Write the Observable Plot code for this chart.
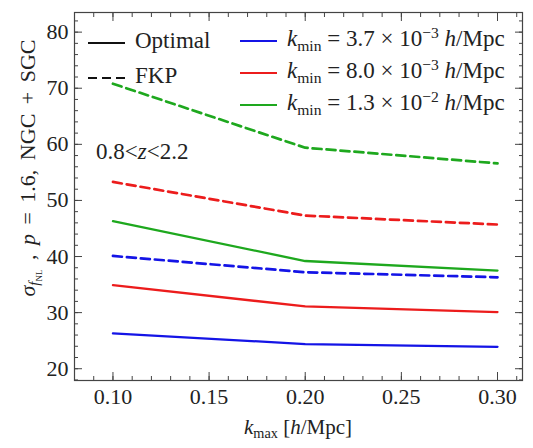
<!DOCTYPE html>
<html>
<head>
<meta charset="utf-8">
<script src="https://cdn.jsdelivr.net/npm/d3@7"></script>
<script src="https://cdn.jsdelivr.net/npm/@observablehq/plot@0.6"></script>
</head>
<body style="margin:0;padding:0;background:#fff;">
<div id="wrap" style="position:relative;width:533px;height:448px;font-family:'Liberation Serif';color:#222;"></div>
<script>
// ---- data ----
const kmax = [0.10, 0.20, 0.30];
const kminLabels = ["3.7e-3", "8.0e-3", "1.3e-2"];
const colors = ["#1414e6", "#ec1c1c", "#1ea81e"];
const optimal_37 = [26.3, 24.4, 23.9];
const optimal_80 = [34.9, 31.1, 30.1];
const optimal_13 = [46.3, 39.2, 37.5];
const fkp_37 = [40.1, 37.2, 36.3];
const fkp_80 = [53.3, 47.3, 45.7];
const fkp_13 = [70.8, 59.4, 56.6];
const xMajor = [0.10, 0.15, 0.20, 0.25, 0.30];
const xMinor = d3.range(8, 32).map(i => i / 100);
const yMajor = [20, 30, 40, 50, 60, 70, 80];
const yMinor = d3.range(18, 84, 2);

const SERIF = "'Liberation Serif', serif";

const rows = [];
function add(weight, kmin, vals) {
  vals.forEach((v, i) => rows.push({kmax: kmax[i], sigma: v, kmin, weight}));
}
add("Optimal", kminLabels[0], optimal_37);
add("Optimal", kminLabels[1], optimal_80);
add("Optimal", kminLabels[2], optimal_13);
add("FKP", kminLabels[0], fkp_37);
add("FKP", kminLabels[1], fkp_80);
add("FKP", kminLabels[2], fkp_13);

const axisColor = "#444";
const plot = Plot.plot({
  width: 533,
  height: 448,
  marginLeft: 74,
  marginRight: 11,
  marginTop: 12,
  marginBottom: 68,
  style: {fontFamily: SERIF, fontSize: "22px", color: "#222"},
  x: {domain: [0.08, 0.313], label: null},
  y: {domain: [17.9, 83.5], label: null},
  color: {domain: kminLabels, range: colors},
  marks: [
    Plot.frame({stroke: axisColor, strokeWidth: 1.2}),
    Plot.axisX({anchor: "bottom", ticks: xMinor, tickSize: -4, text: null, stroke: axisColor}),
    Plot.axisX({anchor: "bottom", ticks: xMajor, tickSize: -8, text: null, stroke: axisColor}),
    Plot.axisX({anchor: "bottom", ticks: xMajor, tickSize: 0, tickPadding: 8, tickFormat: d3.format(".2f"), fill: "#222", fontFamily: SERIF}),
    Plot.axisX({anchor: "top", ticks: xMinor, tickSize: -4, text: null, stroke: axisColor}),
    Plot.axisX({anchor: "top", ticks: xMajor, tickSize: -8, text: null, stroke: axisColor}),
    Plot.axisY({anchor: "left", ticks: yMinor, tickSize: -4, text: null, stroke: axisColor}),
    Plot.axisY({anchor: "left", ticks: yMajor, tickSize: -8, text: null, stroke: axisColor}),
    Plot.axisY({anchor: "left", ticks: yMajor, tickSize: 0, tickPadding: 6, fill: "#222", fontFamily: SERIF}),
    Plot.axisY({anchor: "right", ticks: yMinor, tickSize: -4, text: null, stroke: axisColor}),
    Plot.axisY({anchor: "right", ticks: yMajor, tickSize: -8, text: null, stroke: axisColor}),
    Plot.line(rows.filter(d => d.weight === "Optimal"), {x: "kmax", y: "sigma", z: "kmin", stroke: "kmin", strokeWidth: 2.3}),
    Plot.line(rows.filter(d => d.weight === "FKP"), {x: "kmax", y: "sigma", z: "kmin", stroke: "kmin", strokeWidth: 2.7, strokeDasharray: "9,5"})
  ]
});
plot.style.position = "absolute";
plot.style.left = "0px";
plot.style.top = "0px";
plot.style.fontFamily = SERIF;
const wrap = document.getElementById("wrap");
wrap.appendChild(plot);

function styl(el, obj) { Object.assign(el.style, obj); return el; }
function richHTML(h) {
  return h
    .replace(/<sub>/g, "<span style=\"font-size:0.68em;position:relative;top:0.3em;\">")
    .replace(/<\/sub>/g, "</span>")
    .replace(/<sup>/g, "<span style=\"font-size:0.68em;position:relative;top:-0.5em;\">")
    .replace(/<\/sup>/g, "</span>")
    .replace(/<subs>/g, "<span style=\"font-size:0.6em;position:relative;top:0.25em;\">")
    .replace(/<\/subs>/g, "</span>");
}
function label(html, left, top, extra) {
  const d = document.createElement("div");
  d.innerHTML = richHTML(html);
  styl(d, {position: "absolute", whiteSpace: "nowrap", fontSize: "23px", lineHeight: "1", fontFamily: SERIF, left: left + "px", top: top + "px"});
  if (extra) styl(d, extra);
  d.querySelectorAll("*").forEach(e => e.style.fontFamily = SERIF);
  wrap.appendChild(d);
  return d;
}
function swatch(x1, x2, y, color, dash) {
  const s = document.createElementNS("http://www.w3.org/2000/svg", "svg");
  s.setAttribute("width", x2 - x1);
  s.setAttribute("height", 6);
  styl(s, {position: "absolute", left: x1 + "px", top: (y - 3) + "px"});
  const l = document.createElementNS("http://www.w3.org/2000/svg", "line");
  l.setAttribute("x1", 0); l.setAttribute("x2", x2 - x1);
  l.setAttribute("y1", 3); l.setAttribute("y2", 3);
  l.setAttribute("stroke", color);
  l.setAttribute("stroke-width", 2);
  if (dash) l.setAttribute("stroke-dasharray", dash);
  s.appendChild(l);
  wrap.appendChild(s);
}

// weighting legend
swatch(88, 125, 43, "#111");
label("Optimal", 135, 29);
swatch(88, 125, 78, "#111", "9,5");
label("FKP", 135, 64);

// kmin legend
const kminHtml = [
  "<i>k</i><sub>min</sub> = 3.7 × 10<sup>−3</sup> <i>h</i>/Mpc",
  "<i>k</i><sub>min</sub> = 8.0 × 10<sup>−3</sup> <i>h</i>/Mpc",
  "<i>k</i><sub>min</sub> = 1.3 × 10<sup>−2</sup> <i>h</i>/Mpc"
];
const legY = [41, 73, 105];
kminHtml.forEach((h, i) => {
  swatch(240, 277, legY[i], colors[i]);
  label(h, 287, legY[i] - 14);
});

// annotation
label("0.8&lt;<i>z</i>&lt;2.2", 96, 140);

// axis titles
label("<i>k</i><sub>max</sub> [<i>h</i>/Mpc]", 298, 417, {transform: "translateX(-50%)", fontSize: "21px"});
label("<i>σ</i><sub><i>f</i><subs>NL</subs></sub> , <i>p</i> = 1.6, NGC + SGC", 28, 168,
  {transform: "translate(-50%, -50%) rotate(-90deg)", fontSize: "22px", wordSpacing: "4px"});
</script>
</body>
</html>
